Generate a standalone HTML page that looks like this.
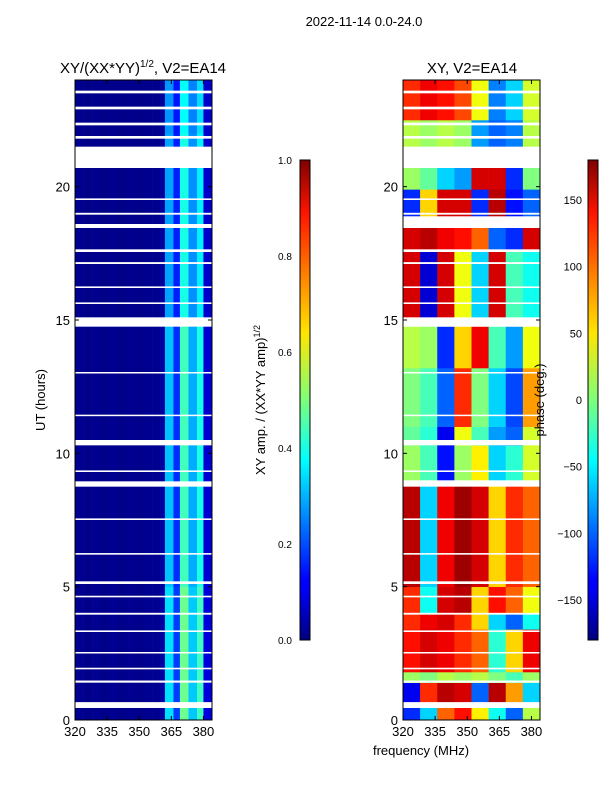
<!DOCTYPE html>
<html><head><meta charset="utf-8"><style>
body{margin:0;background:#fff;}
svg text{font-family:"Liberation Sans",sans-serif;}
</style></head><body>
<svg id="fig" width="600" height="800" xmlns="http://www.w3.org/2000/svg">
<defs>
<linearGradient id="jet" x1="0" y1="1" x2="0" y2="0">
<stop offset="0" stop-color="#00007f"/><stop offset="0.11" stop-color="#0000ff"/><stop offset="0.125" stop-color="#0000ff"/>
<stop offset="0.34" stop-color="#00dcff"/><stop offset="0.375" stop-color="#00ffff"/><stop offset="0.5" stop-color="#7dff7a"/>
<stop offset="0.64" stop-color="#ffe600"/><stop offset="0.66" stop-color="#ffd400"/><stop offset="0.89" stop-color="#ff1300"/>
<stop offset="1" stop-color="#7f0000"/>
</linearGradient>
</defs>
<text x="364" y="26" font-size="13" text-anchor="middle">2022-11-14 0.0-24.0</text>
<text x="143" y="73" font-size="15" text-anchor="middle">XY/(XX*YY)<tspan font-size="10" dy="-6">1/2</tspan><tspan dy="6">, V2=EA14</tspan></text>
<text x="472" y="73" font-size="15" text-anchor="middle">XY, V2=EA14</text>
<g id="left"></g>
<g id="right"></g>
<g id="axes"></g>
<rect x="300" y="160" width="10" height="480" fill="url(#jet)" stroke="#000" stroke-width="1"/>
<rect x="588" y="160" width="10" height="480" fill="url(#jet)" stroke="#000" stroke-width="1"/>
<text transform="translate(265,400) rotate(-90)" font-size="13" text-anchor="middle">XY amp. / (XX*YY amp)<tspan font-size="9" dy="-5">1/2</tspan></text>
<text transform="translate(544,400) rotate(-90)" font-size="13" text-anchor="middle">phase (deg.)</text>
<text transform="translate(45,400) rotate(-90)" font-size="13" text-anchor="middle">UT (hours)</text>
<text x="421" y="755" font-size="13" text-anchor="middle">frequency (MHz)</text>
</svg>
<script>
const freqEdges=[320,324,328,332,336,340,344,348,352,356,360,362,366,369,373,377,380,384];
const ampProfile=[0.015,0.01,0.015,0.01,0.015,0.01,0.015,0.01,0.015,0.015,0.03,0.3,0.16,0.42,0.28,0.38,0.08];
const ampBandStart=[0,5,15,22];
const ampBandEnd=[5,15,22,24];
const ampBandScale=[1.15,1.05,0.95,0.9];
const phaseCols=[320,328,336,344,352,360,368,376,384];
const phaseBandStart=[0,0.67,1.4,1.8,3.4,4.0,5.0,9.0,10.3,11.0,13.2,15.1,17.6,18.9,19.9,21.5,22.5];
const phaseBandEnd=[0.45,1.4,1.8,3.4,4.0,5.0,8.8,10.3,11.0,13.2,14.75,17.6,18.5,19.9,20.7,22.5,24];
const phaseValues=[
[-120,-60,100,130,50,-40,-100,20],
[-140,120,160,150,-100,160,80,-60],
[10,0,20,10,20,0,-20,10],
[130,150,140,120,100,-30,60,140],
[120,140,150,120,60,-60,-100,-40],
[120,-40,150,160,60,130,100,40],
[160,-60,140,170,150,60,120,100],
[10,-20,-130,10,50,-60,-30,30],
[-10,-30,-140,40,-20,-80,-100,30],
[0,-20,-100,120,0,-60,-110,80],
[20,10,-120,60,140,-20,-80,40],
[150,-150,150,40,-60,150,-20,-40],
[150,160,140,130,100,-100,-120,150],
[-120,60,150,150,-120,160,-130,-100],
[10,-10,-60,-80,150,150,-120,0],
[20,10,20,10,-80,-100,-90,20],
[120,140,130,110,40,-90,-60,30]];
const gapStart=[0.45,1.4,1.9,2.5,3.3,3.95,4.6,5.1,6.2,7.5,8.75,9.3,10.3,11.4,13.0,14.75,15.6,16.2,17.1,17.55,18.45,18.95,19.5,20.7,21.8,22.3,22.9,23.5];
const gapEnd=[0.67,1.48,1.96,2.55,3.36,4.02,4.66,5.2,6.26,7.56,8.95,9.36,10.5,11.45,13.05,15.1,15.66,16.26,17.17,17.65,18.6,19.02,19.56,21.5,21.9,22.4,23.0,23.6];
const yTicks=[0,5,10,15,20];
const xTicks=[320,335,350,365,380];
const ampTicks=[0.0,0.2,0.4,0.6,0.8,1.0];
const phaseTicks=[-150,-100,-50,0,50,100,150];

const NS="http://www.w3.org/2000/svg";
const Y0=720,Y1=80;
function yH(h){return Y0-(h/24)*(Y0-Y1);}
function xF(f,x0){return x0+(f-320)*(137/64);}
function jet(v){v=Math.max(0,Math.min(1,v));
 const c=t=>Math.round(255*Math.max(0,Math.min(1,1.5-Math.abs(4*v-t))));
 return `rgb(${c(3)},${c(2)},${c(1)})`;}
function mk(tag,attrs,parent){const e=document.createElementNS(NS,tag);for(const k in attrs)e.setAttribute(k,attrs[k]);parent.appendChild(e);return e;}
const L=document.getElementById('left'),R=document.getElementById('right'),A=document.getElementById('axes');
for(let b=0;b<ampBandStart.length;b++){
 for(let i=0;i<ampProfile.length;i++){
  const x=xF(freqEdges[i],75),w=xF(freqEdges[i+1],75)-x;
  const y=yH(ampBandEnd[b]),h=yH(ampBandStart[b])-y;
  const r=mk('rect',{x:x,y:y,width:w+0.3,height:h+0.3,fill:jet(ampProfile[i]*ampBandScale[b])},L);
  
  
 }}
for(let b=0;b<phaseBandStart.length;b++){
 for(let i=0;i<phaseValues[b].length;i++){
  const x=xF(phaseCols[i],403),w=xF(phaseCols[i+1],403)-x;
  const y=yH(phaseBandEnd[b]),h=yH(phaseBandStart[b])-y;
  const r=mk('rect',{x:x,y:y,width:w+0.3,height:h+0.3,fill:jet((phaseValues[b][i]+180)/360)},R);
  
  
 }}
for(let g=0;g<gapStart.length;g++){
 for(const x0 of [75,403]){
  const y=yH(gapEnd[g]),h=yH(gapStart[g])-y;
  const r=mk('rect',{x:x0,y:y,width:137,height:Math.max(1.5,h),fill:'#fff'},x0==75?L:R);
  
  
 }}
for(const x0 of [75,403]){
 const f=mk('rect',{x:x0,y:80,width:137,height:640,fill:'none',stroke:'#000','stroke-width':1},A);
 
 
 yTicks.forEach(t=>{const y=yH(t);
  mk('line',{x1:x0,x2:x0+4,y1:y,y2:y,stroke:'#000'},A);
  mk('line',{x1:x0+137,x2:x0+133,y1:y,y2:y,stroke:'#000'},A);
  const tx=mk('text',{x:x0-5,y:y+5,'font-size':13,'text-anchor':'end'},A);tx.textContent=t;
  
  });
 xTicks.forEach(t=>{const x=xF(t,x0);
  mk('line',{x1:x,x2:x,y1:720,y2:716,stroke:'#000'},A);
  mk('line',{x1:x,x2:x,y1:80,y2:84,stroke:'#000'},A);
  const tx=mk('text',{x:x,y:736,'font-size':13,'text-anchor':'middle'},A);tx.textContent=t;
  
  });
}
ampTicks.forEach(t=>{const y=640-t*480;
 mk('line',{x1:300,x2:303,y1:y,y2:y,stroke:'#000'},A);mk('line',{x1:310,x2:307,y1:y,y2:y,stroke:'#000'},A);
 const tx=mk('text',{x:278,y:y+4,'font-size':10},A);tx.textContent=t.toFixed(1);
 
 });
phaseTicks.forEach(t=>{const y=400-t*(480/360);
 mk('line',{x1:588,x2:591,y1:y,y2:y,stroke:'#000'},A);mk('line',{x1:598,x2:595,y1:y,y2:y,stroke:'#000'},A);
 const tx=mk('text',{x:582,y:y+4,'font-size':11,'text-anchor':'end'},A);tx.textContent=t<0?'\u2212'+(-t):t;
 
 });
</script>
</body></html>
